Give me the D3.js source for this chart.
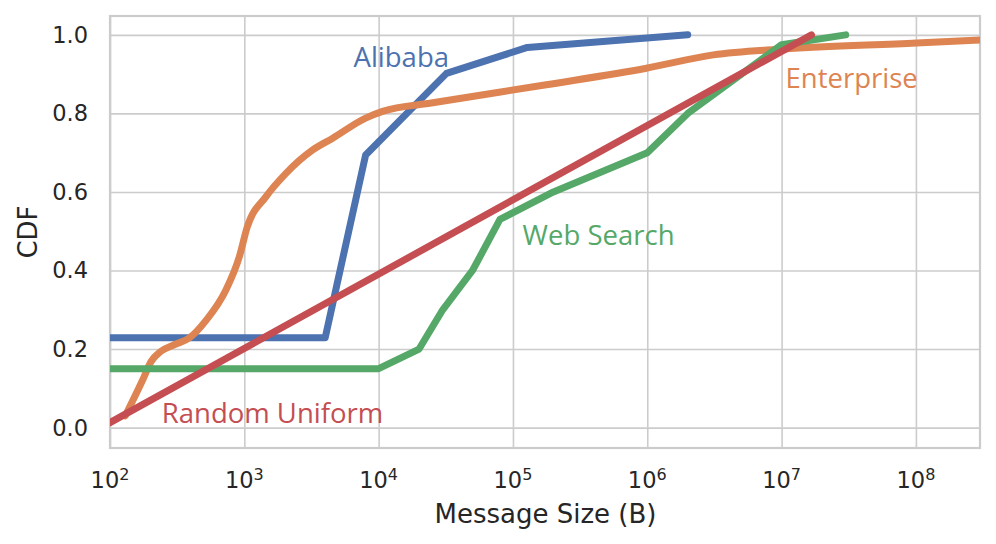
<!DOCTYPE html>
<html>
<head>
<meta charset="utf-8">
<script src="https://cdn.jsdelivr.net/npm/d3@7"></script>
<style>
  body { margin: 0; background: #fff; }
  .grid line { stroke: #cccccc; stroke-width: 1.6; }
  .grid .domain { display: none; }
  .tickLabel { font-family: "DejaVu Sans", sans-serif; font-size: 22.5px; fill: #262626; }
  .axisText { font-family: "DejaVu Sans", sans-serif; font-size: 26px; fill: #262626; }
  .seriesLabel { font-family: "Open Sans", sans-serif; font-size: 27.5px; }
</style>
</head>
<body>
<div id="chart"></div>
<script>
// data (message size in bytes, CDF)
var alibabaSize = [100, 4000, 8000, 32000, 128000, 2000000];
var alibabaCdf = [0.229, 0.229, 0.694, 0.902, 0.968, 1.0];

var enterpriseSize = [130, 175, 202, 239, 301, 389, 519, 731, 918, 1050, 1450, 2050, 3230, 4550, 8000,
    10700, 25300, 177000, 984000, 3.1e6, 1.03e7, 1.01e8, 3e8];
var enterpriseCdf = [0.03, 0.121, 0.168, 0.194, 0.211, 0.228, 0.273, 0.351, 0.435, 0.51, 0.588, 0.648, 0.707, 0.737, 0.788,
    0.805, 0.827, 0.873, 0.915, 0.949, 0.964, 0.979, 0.987];

var webSearchSize = [100, 10000, 20000, 30000, 50000, 80000, 200000, 1e6, 2e6, 1e7, 3e7];
var webSearchCdf = [0.15, 0.15, 0.2, 0.3, 0.4, 0.53, 0.6, 0.7, 0.8, 0.975, 1.0];

var uniformSize = [100, 1.67e7];
var uniformCdf = [0.0127, 1.0];

var seriesNames = ["Alibaba", "Enterprise", "Web Search", "Random Uniform"];
var seriesColors = ["#4C72B0", "#DD8452", "#55A868", "#C44E52"];

var xTickExp = [2, 3, 4, 5, 6, 7, 8];
var yTicks = [0, 0.2, 0.4, 0.6, 0.8, 1.0];
var yTickLabels = ["0.0", "0.2", "0.4", "0.6", "0.8", "1.0"];

var svgWidth = 996;
var svgHeight = 544;
var margin = { top: 16, right: 16, bottom: 96, left: 110 };
var width = svgWidth - margin.left - margin.right;
var height = svgHeight - margin.top - margin.bottom;

var svg = d3.select("#chart")
    .append("svg")
    .attr("width", svgWidth)
    .attr("height", svgHeight);

var chartGroup = svg.append("g")
    .attr("transform", `translate(${margin.left},${margin.top})`);

var xScale = d3.scaleLog()
    .domain([100, 3e8])
    .range([0, width]);

var yScale = d3.scaleLinear()
    .domain([-0.052, 1.048])
    .range([height, 0]);

// grid lines
chartGroup.append("g")
    .attr("class", "grid")
    .attr("transform", `translate(0, ${height})`)
    .call(d3.axisBottom(xScale)
        .tickValues(xTickExp.map(e => Math.pow(10, e)))
        .tickSize(-height)
        .tickFormat(""));

chartGroup.append("g")
    .attr("class", "grid")
    .call(d3.axisLeft(yScale)
        .tickValues(yTicks)
        .tickSize(-width)
        .tickFormat(""));

// frame
chartGroup.append("rect")
    .attr("width", width)
    .attr("height", height)
    .attr("fill", "none")
    .attr("stroke", "#cccccc")
    .attr("stroke-width", 2.2);

// tick labels
chartGroup.selectAll(".yLabel")
    .data(yTicks)
    .enter()
    .append("text")
    .attr("class", "tickLabel")
    .attr("x", -22)
    .attr("y", d => yScale(d) + 8)
    .attr("text-anchor", "end")
    .text((d, i) => yTickLabels[i]);

var xLabels = chartGroup.selectAll(".xLabel")
    .data(xTickExp)
    .enter()
    .append("text")
    .attr("class", "tickLabel")
    .attr("x", d => xScale(Math.pow(10, d)))
    .attr("y", height + 40)
    .attr("text-anchor", "middle");
xLabels.append("tspan").text("10");
xLabels.append("tspan")
    .attr("dy", -8)
    .style("font-size", "16px")
    .text(d => d);

// lines
chartGroup.append("clipPath")
    .attr("id", "plotClip")
    .append("rect")
    .attr("width", width)
    .attr("height", height);

var seriesData = [
    d3.zip(alibabaSize, alibabaCdf),
    d3.zip(enterpriseSize, enterpriseCdf),
    d3.zip(webSearchSize, webSearchCdf),
    d3.zip(uniformSize, uniformCdf)
];
var curves = [d3.curveLinear, d3.curveMonotoneX, d3.curveLinear, d3.curveLinear];

seriesData.forEach(function(pts, i) {
    var line = d3.line()
        .x(d => xScale(d[0]))
        .y(d => yScale(d[1]))
        .curve(curves[i]);
    chartGroup.append("path")
        .datum(pts)
        .attr("clip-path", "url(#plotClip)")
        .attr("d", line)
        .attr("fill", "none")
        .attr("stroke", seriesColors[i])
        .attr("stroke-width", 7)
        .attr("stroke-linecap", "round")
        .attr("stroke-linejoin", "round");
});

// series labels (positioned at data coordinates)
var labelPos = [[6500, 0.918], [1.07e7, 0.864], [1.18e5, 0.465], [243, 0.011]];
chartGroup.selectAll(".seriesLabel")
    .data(seriesNames)
    .enter()
    .append("text")
    .attr("class", "seriesLabel")
    .attr("x", (d, i) => xScale(labelPos[i][0]))
    .attr("y", (d, i) => yScale(labelPos[i][1]))
    .attr("fill", (d, i) => seriesColors[i])
    .text(d => d);

// axis titles
chartGroup.append("text")
    .attr("class", "axisText")
    .attr("transform", "rotate(-90)")
    .attr("x", 0 - (height / 2))
    .attr("y", -73)
    .style("text-anchor", "middle")
    .text("CDF");

chartGroup.append("text")
    .attr("class", "axisText")
    .attr("x", (433 + 658) / 2 - margin.left)
    .attr("y", 523 - margin.top)
    .style("text-anchor", "middle")
    .text("Message Size (B)");
</script>
</body>
</html>
